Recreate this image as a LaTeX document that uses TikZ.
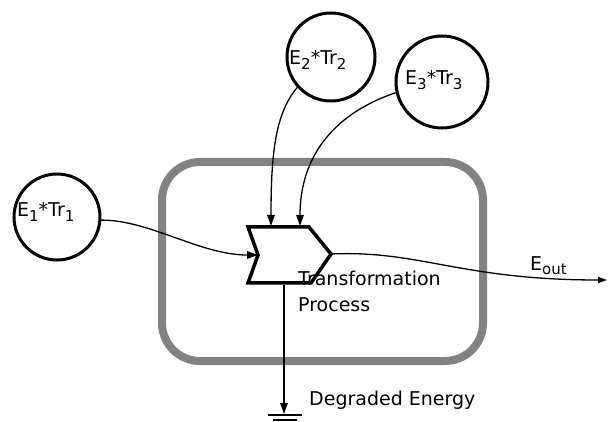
\documentclass[tikz,border=0pt]{standalone}
\usepackage{fontspec}
\setmainfont{DejaVu Sans}
\usetikzlibrary{arrows.meta}
\definecolor{boxgray}{RGB}{130,130,130}
\newcommand\sbs[1]{\raisebox{-0.45ex}{\fontsize{15}{15}\selectfont #1}}
\begin{document}
\begin{tikzpicture}[x=1pt,y=-1pt,
  ecirc/.style={circle, draw, line width=3pt, inner sep=0pt},
  lab/.style={font=\fontsize{19}{27}\selectfont, inner sep=0pt, anchor=base west},
  conn/.style={line width=1.3pt, -{Triangle[length=11pt,width=7.5pt]}},
  procbox/.style={draw=boxgray, line width=8pt, rounded corners=38pt, inner sep=0pt},
  chev/.style={line width=3.5pt, line join=miter},
  gline/.style={line width=1.3pt}]
\useasboundingbox (0,0) rectangle (608,422);
\clip (0,0) rectangle (608,422);
% process box
\node[procbox, minimum width=321pt, minimum height=199pt] (box) at (322.5,261.5) {};
% energy circles
\node[ecirc, minimum size=86pt] (c1) at (57,217) {};
\node[ecirc, minimum size=88pt] (c2) at (331,57) {};
\node[ecirc, minimum size=92pt] (c3) at (442,82) {};
\node[lab] (t1) at (17,217) {E\sbs{1}*Tr\sbs{1}};
\node[lab] (t2) at (289,65) {E\sbs{2}*Tr\sbs{2}};
\node[lab] (t3) at (405,85) {E\sbs{3}*Tr\sbs{3}};
% chevron
\coordinate (tl) at (248,227);
\coordinate (tr) at (309,227);
\coordinate (tip) at (331,254);
\coordinate (br) at (311,283);
\coordinate (bl) at (248,283);
\coordinate (notch) at (258,255);
\draw[chev] (tl) -- (tr) -- (tip) -- (br) -- (bl) -- (notch) -- cycle;
\coordinate (top2) at (271,226);
\coordinate (top3) at (300,226);
\coordinate (bot) at (284,285);
\coordinate (gnd) at (284,414);
\coordinate (eend) at (607,280);
% connectors
\draw[conn] (c1.-4) .. controls (150,220) and (200,255) .. (notch);
\draw[conn] (c2.222) .. controls (276,113) and (271,150) .. (top2);
\draw[conn] (c3.193) .. controls (330,115) and (300,160) .. (top3);
\draw[line width=1.3pt, -{Triangle[length=9pt,width=6pt]}] (tip) .. controls (420,250) and (460,280) .. (eend);
\draw[conn] (bot) -- (gnd);
% ground
\draw[gline] ([xshift=-16pt,yshift=-1pt]gnd) -- ([xshift=18pt,yshift=-1pt]gnd);
\draw[gline] ([xshift=-11pt,yshift=-6pt]gnd) -- ([xshift=13pt,yshift=-6pt]gnd);
\draw[gline] ([xshift=-6pt,yshift=-11pt]gnd) -- ([xshift=8pt,yshift=-11pt]gnd);
% labels
\node[lab] (eo) at (530,270) {E\sbs{out}};
\node[lab, align=left] (tp) at (298,312) {Transformation\\Process};
\node[lab] (de) at (309,405) {Degraded Energy};
\end{tikzpicture}
\end{document}
